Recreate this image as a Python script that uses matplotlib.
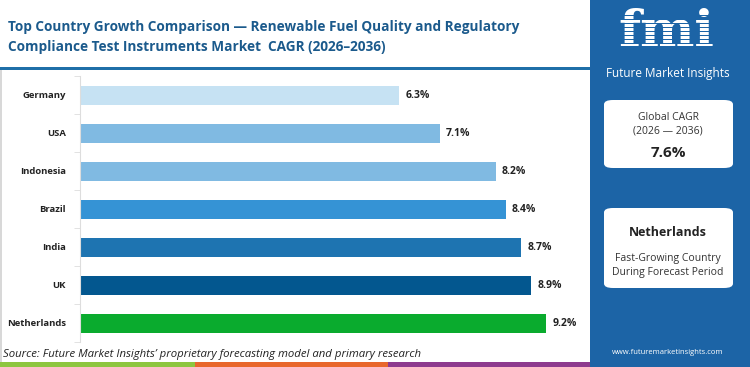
import matplotlib.pyplot as plt
from matplotlib.patches import FancyBboxPatch, Rectangle

W, H = 750, 367

countries = ["Germany", "USA", "Indonesia", "Brazil", "India", "UK", "Netherlands"]
cagr = [6.3, 7.1, 8.2, 8.4, 8.7, 8.9, 9.2]
bar_colors = ["#c6e2f3", "#80bae2", "#80bae2", "#3593d5", "#1e74b1", "#03578f", "#0aab2e"]
global_cagr = "7.6%"
top_country = "Netherlands"

plt.rcParams['font.family'] = ['Open Sans', 'DejaVu Sans']

fig = plt.figure(figsize=(W / 100, H / 100), dpi=100)
fig.patch.set_facecolor("white")


def fx(x):
    return x / W


def fy(y):
    return 1 - y / H


# sidebar
fig.patches.append(Rectangle((fx(590), 0), fx(160), 1, transform=fig.transFigure,
                             facecolor="#1c64a6", edgecolor="none", zorder=0))
# thin left border
fig.patches.append(Rectangle((0, fy(362)), 1.5 / W, (362 - 70) / H, transform=fig.transFigure,
                             facecolor="#d8d8d8", edgecolor="none"))
# bottom colour strip
for x0, x1, c in [(0, 195, "#8dc63f"), (195, 388, "#e8672c"), (388, 590, "#8e3a8e")]:
    fig.patches.append(Rectangle((fx(x0), 0), fx(x1 - x0), 5 / H, transform=fig.transFigure,
                                 facecolor=c, edgecolor="none"))
# title underline
fig.patches.append(Rectangle((0, fy(69.5)), fx(590), 2.5 / H, transform=fig.transFigure,
                             facecolor="#1f6fa8", edgecolor="none"))

fig.text(fx(8), fy(27), "Top Country Growth Comparison \u2014 Renewable Fuel Quality and Regulatory",
         fontsize=9.8, fontweight="bold", color="#1b5a8c", va="center")
fig.text(fx(8), fy(47), "Compliance Test Instruments Market  CAGR (2026\u20132036)",
         fontsize=9.8, fontweight="bold", color="#1b5a8c", va="center")

# bars
ax = fig.add_axes([fx(80), fy(342), fx(587 - 80), (342 - 76) / H])
y = range(len(countries))
ax.barh(y, cagr, height=0.5, color=bar_colors)
for i, v in enumerate(cagr):
    ax.text(v + 0.12, i, f"{v}%", va="center", ha="left", fontsize=7.5,
            fontweight="bold", color="#222222")
ax.set_xlim(0, 10)
ax.set_ylim(len(countries) - 0.5, -0.5)
ax.set_yticks(list(y))
ax.set_yticklabels(countries, fontsize=6.8, fontweight="bold", color="#222222")
ax.set_yticks([i + 0.5 for i in range(-1, len(countries))], minor=True)
ax.tick_params(axis="y", which="major", length=0, pad=10)
ax.tick_params(axis="y", which="minor", length=4, color="#dddddd")
ax.set_xticks([])
for s in ["top", "right", "bottom"]:
    ax.spines[s].set_visible(False)
ax.spines["left"].set_color("#dddddd")

fig.text(fx(3), fy(354), "Source: Future Market Insights\u2019 proprietary forecasting model and primary research",
         fontsize=8.2, style="italic", color="#222222", va="center")

# logo
fig.text(fx(666), fy(33), "fmi", fontsize=37, fontweight="bold", family="DejaVu Serif",
         color="white", ha="center", va="center")
for yy in range(16, 62, 4):
    fig.patches.append(Rectangle((fx(605), fy(yy)), fx(125), 1.2 / H, transform=fig.transFigure,
                                 facecolor="#1c64a6", edgecolor="none", zorder=5))
fig.text(fx(668), fy(73), "Future Market Insights", fontsize=8.5, color="white",
         ha="center", va="center")

# info boxes
for y0, y1 in [(100, 168), (208, 288)]:
    fig.patches.append(FancyBboxPatch((fx(604), fy(y1)), fx(129), (y1 - y0) / H,
                                      boxstyle="round,pad=0,rounding_size=0.012",
                                      transform=fig.transFigure, facecolor="white",
                                      edgecolor="none", zorder=3))
fig.text(fx(668), fy(118), "Global CAGR", fontsize=7.5, color="#333333", ha="center", va="center", zorder=4)
fig.text(fx(668), fy(131), "(2026 \u2014 2036)", fontsize=7.5, color="#333333", ha="center", va="center", zorder=4)
fig.text(fx(668), fy(153), global_cagr, fontsize=11, fontweight="bold", color="#222222",
         ha="center", va="center", zorder=4)
fig.text(fx(668), fy(232), top_country, fontsize=9, fontweight="bold", color="#222222",
         ha="center", va="center", zorder=4)
fig.text(fx(668), fy(258), "Fast-Growing Country", fontsize=7.5, color="#333333",
         ha="center", va="center", zorder=4)
fig.text(fx(668), fy(272), "During Forecast Period", fontsize=7.5, color="#333333",
         ha="center", va="center", zorder=4)
fig.text(fx(668), fy(352), "www.futuremarketinsights.com", fontsize=5.5, color="white",
         ha="center", va="center")

fig.savefig("out.png", dpi=100)
